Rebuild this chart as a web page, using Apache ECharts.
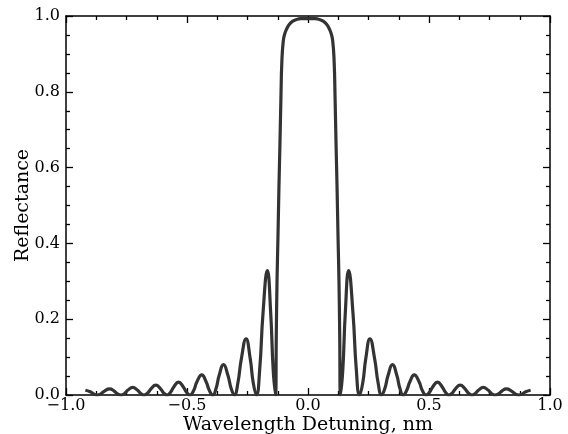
<!DOCTYPE html>
<html><head><meta charset="utf-8">
<script src="https://cdn.jsdelivr.net/npm/echarts@6/dist/echarts.min.js"></script>
<style>html,body{margin:0;padding:0;background:#fff}#c{width:568px;height:434px}</style>
</head><body><div id="c"></div>
<script>
// Wavelength detuning (nm)
const detuning = [
-0.920,-0.900,-0.886,-0.872,
-0.856,-0.841,-0.820,-0.801,-0.787,-0.773,
-0.758,-0.744,-0.724,-0.705,-0.691,-0.677,
-0.663,-0.648,-0.629,-0.610,-0.596,-0.582,
-0.568,-0.554,-0.535,-0.516,-0.502,-0.488,
-0.473,-0.459,-0.439,-0.421,-0.407,-0.393,
-0.380,-0.367,-0.349,-0.331,-0.3175,-0.304,
-0.290,-0.275,-0.256,-0.239,-0.226,-0.213,
-0.1995,-0.186,-0.168,-0.154,-0.144,-0.134,
-0.131,-0.128,-0.124,-0.120,-0.116,-0.112,-0.108,-0.102,-0.095,-0.085,-0.070,-0.050,-0.030,
0.000,
0.030,0.050,0.070,0.085,0.095,0.102,0.108,0.112,0.116,0.120,0.124,0.128,0.131,
0.134,0.144,0.154,0.168,0.186,0.1995,
0.213,0.226,0.239,0.256,0.275,0.290,
0.304,0.3175,0.331,0.349,0.367,0.380,
0.393,0.407,0.421,0.439,0.459,0.473,
0.488,0.502,0.516,0.535,0.554,0.568,
0.582,0.596,0.610,0.629,0.648,0.663,
0.677,0.691,0.705,0.724,0.744,0.758,
0.773,0.787,0.801,0.820,0.841,0.856,
0.872,0.886,0.900,0.920
];
// Reflectance
const reflectance = [
0.0125,0.0085,0.003,0.000,
0.003,0.0105,0.016,0.0105,0.003,0.000,
0.004,0.013,0.020,0.013,0.004,0.000,
0.005,0.017,0.026,0.017,0.005,0.000,
0.007,0.022,0.034,0.022,0.007,0.000,
0.011,0.035,0.053,0.035,0.011,0.000,
0.017,0.052,0.080,0.052,0.017,0.000,
0.031,0.097,0.148,0.097,0.031,0.000,
0.068,0.215,0.328,0.215,0.068,0.000,
0.160,0.300,0.420,0.550,0.660,0.780,0.880,0.935,0.955,0.970,0.983,0.990,0.993,
0.993,
0.993,0.990,0.983,0.970,0.955,0.935,0.880,0.780,0.660,0.550,0.420,0.300,0.160,
0.000,0.068,0.215,0.328,0.215,0.068,
0.000,0.031,0.097,0.148,0.097,0.031,
0.000,0.017,0.052,0.080,0.052,0.017,
0.000,0.011,0.035,0.053,0.035,0.011,
0.000,0.007,0.022,0.034,0.022,0.007,
0.000,0.005,0.017,0.026,0.017,0.005,
0.000,0.004,0.013,0.020,0.013,0.004,
0.000,0.003,0.0105,0.016,0.0105,0.003,
0.000,0.003,0.0085,0.0125
];
const xRange = [-1, 1];
const yRange = [0, 1];
const xLabel = 'Wavelength Detuning, nm';
const yLabel = 'Reflectance';

const FONT = 'DejaVu Serif';
const fmt = v => { const s = v.toFixed(1); return s.replace('-', '\u2212'); };
const tickStyle = {color:'#000', width:1.3};
function xAxisCfg(pos, labels) {
  return {
    type:'value', min:xRange[0], max:xRange[1], interval:0.5, position:pos,
    axisLine:{onZero:false, lineStyle:{color:'#000', width:1.5}},
    axisTick:{inside:true, length:7, lineStyle:tickStyle},
    minorTick:{show:true, splitNumber:4, length:4, lineStyle:tickStyle},
    splitLine:{show:false}, minorSplitLine:{show:false},
    axisLabel:{show:labels, fontFamily:FONT, fontSize:16, color:'#000', margin:3, formatter:fmt},
    name: labels ? xLabel : '', nameLocation:'middle', nameGap:21, nameMoveOverlap:false,
    nameTextStyle:{fontFamily:FONT, fontSize:19, color:'#000'}
  };
}
function yAxisCfg(pos, labels) {
  return {
    type:'value', min:yRange[0], max:yRange[1], interval:0.2, position:pos,
    axisLine:{onZero:false, lineStyle:{color:'#000', width:1.5}},
    axisTick:{inside:true, length:7, lineStyle:tickStyle},
    minorTick:{show:true, splitNumber:4, length:4, lineStyle:tickStyle},
    splitLine:{show:false}, minorSplitLine:{show:false},
    axisLabel:{show:labels, fontFamily:FONT, fontSize:16, color:'#000', margin:6, formatter:v=>v.toFixed(1)},
    name: labels ? yLabel : '', nameLocation:'middle', nameGap:33, nameMoveOverlap:false,
    nameTextStyle:{fontFamily:FONT, fontSize:19, color:'#000'}
  };
}
const chart = echarts.init(document.getElementById('c'), null, {renderer:'canvas'});
chart.setOption({
  animation:false,
  backgroundColor:'#fff',
  grid:{left:66, right:18, top:16, bottom:39, containLabel:false, outerBoundsMode:'none'},
  xAxis:[xAxisCfg('bottom', true), xAxisCfg('top', false)],
  yAxis:[yAxisCfg('left', true), yAxisCfg('right', false)],
  series:[{
    type:'line', xAxisIndex:0, yAxisIndex:0,
    data: detuning.map((x,i)=>[x, reflectance[i]]),
    showSymbol:false, smooth:0.5,
    lineStyle:{color:'#333', width:3.2}, clip:true
  }]
});
</script></body></html>
